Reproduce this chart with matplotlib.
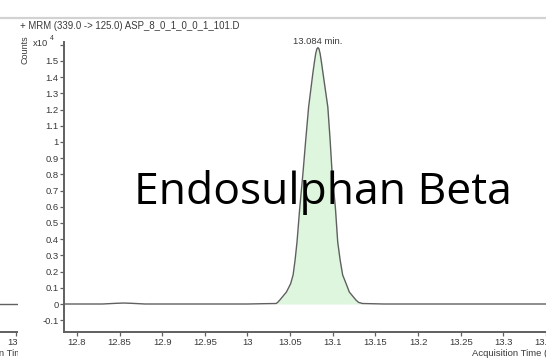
import matplotlib
matplotlib.use('Agg')
import matplotlib.pyplot as plt
import numpy as np
from matplotlib.lines import Line2D
from matplotlib.patches import Rectangle

# Cromatograma MRM (contagens em x10^4)
tempo = [12.785, 12.83, 12.845, 12.855, 12.865, 12.88, 13.0, 13.02,
         13.0337, 13.0354, 13.038, 13.0457, 13.0506, 13.0535, 13.0558,
         13.0581, 13.0613, 13.0651, 13.0683, 13.0717, 13.0767, 13.0784,
         13.08, 13.0814, 13.0826, 13.0838, 13.0852, 13.0868, 13.0885,
         13.0942, 13.0969, 13.0992, 13.1031, 13.1058, 13.1087, 13.1116,
         13.1157, 13.1194, 13.1271, 13.1302, 13.1349, 13.16, 13.35]
contagens = [0.0, 0.0, 0.004, 0.006, 0.004, 0.0, 0.0, 0.002,
             0.003, 0.01, 0.025, 0.074, 0.125, 0.179, 0.27,
             0.383, 0.593, 0.81, 1.012, 1.216, 1.426, 1.49,
             1.545, 1.575, 1.582, 1.575, 1.545, 1.49, 1.426,
             1.216, 1.012, 0.81, 0.593, 0.383, 0.27, 0.179,
             0.125, 0.074, 0.025, 0.01, 0.003, 0.0, 0.0]
pico_inicio, pico_fim = 13.0337, 13.1349
tempo_pico = 13.0826
rotulo_pico = '13.084 min.'

# painel vizinho (cortado a esquerda)
tempo_esq = [13.26, 13.41]
contagens_esq = [0.0, 0.0]

xticks = [12.8, 12.85, 12.9, 12.95, 13.0, 13.05, 13.1, 13.15, 13.2, 13.25, 13.3, 13.35]
xticklabels = ['12.8', '12.85', '12.9', '12.95', '13', '13.05', '13.1', '13.15',
               '13.2', '13.25', '13.3', '13.35']
yticks = [round(v, 1) for v in np.arange(-0.1, 1.65, 0.1)]
yticklabels = ['' if v == 1.6 else ('%g' % v) for v in yticks]

W, H = 546, 359
def fx(px):
    return px / W
def fy(py):
    return 1 - py / H

cinza = '#606060'
texto_cor = '#3a3a3a'
fonte = 'Liberation Sans'

fig = plt.figure(figsize=(W / 100, H / 100), dpi=100)

y0, y1 = 332, 42
ax = fig.add_axes([fx(64), fy(y0), fx(W - 64), (y0 - y1) / H], zorder=1)
ax.plot(tempo, contagens, color=cinza, lw=1.0)
t = np.array(tempo)
c = np.array(contagens)
ax.fill_between(t, c, 0, where=(t >= pico_inicio) & (t <= pico_fim),
                color='#ddf6dd', lw=0)
ax.set_xlim(12.7849, 13.3453)
ax.set_ylim(-0.1728, 1.617)
ax.set_xticks(xticks)
ax.set_xticklabels(xticklabels)
ax.set_yticks(yticks)
ax.set_yticklabels(yticklabels)
for s in ['top', 'right']:
    ax.spines[s].set_visible(False)
for s in ['left', 'bottom']:
    ax.spines[s].set_color(cinza)
    ax.spines[s].set_linewidth(1.4)
ax.tick_params(direction='out', length=3, width=0.9, color=cinza,
               labelsize=6.8, labelcolor=texto_cor, pad=1)
for lab in ax.get_xticklabels() + ax.get_yticklabels():
    lab.set_family(fonte)
ax.annotate(rotulo_pico, xy=(tempo_pico, max(contagens)), xytext=(0, 1),
            textcoords='offset points', ha='center', va='bottom',
            fontsize=6.8, color=texto_cor, family=fonte, annotation_clip=False)

# painel da esquerda
ax_e = fig.add_axes([fx(-100), fy(y0), fx(118), (y0 - y1) / H], zorder=0)
ax_e.plot(tempo_esq, contagens_esq, color=cinza, lw=1.0)
ax_e.set_xlim(13.4023 - 0.1372, 13.4023)
ax_e.set_ylim(-0.1728, 1.617)
ax_e.set_xticks([13.35, 13.4])
ax_e.set_xticklabels(['13.35', '13.4'])
ax_e.set_yticks([])
for s in ['top', 'right', 'left']:
    ax_e.spines[s].set_visible(False)
ax_e.spines['bottom'].set_color(cinza)
ax_e.spines['bottom'].set_linewidth(1.4)
ax_e.tick_params(direction='out', length=3, width=0.9, color=cinza,
                 labelsize=6.8, labelcolor=texto_cor, pad=1)
for lab in ax_e.get_xticklabels():
    lab.set_family(fonte)
fig.text(fx(-42), fy(353), 'Acquisition Time (min)', fontsize=6.8,
         color=texto_cor, family=fonte, ha='left', va='center', zorder=0.2)

# tapar o resto do painel vizinho
fig.add_artist(Rectangle((fx(18), 0), fx(45), fy(290), transform=fig.transFigure,
                         facecolor='white', edgecolor='none', zorder=0.5))

# linha cinza no topo
fig.add_artist(Line2D([0, 1], [fy(18), fy(18)], transform=fig.transFigure,
                      color='#d2d2d2', lw=1.6))

fig.text(fx(20), fy(26), '+ MRM (339.0 -> 125.0) ASP_8_0_1_0_0_1_101.D',
         fontsize=6.9, color=texto_cor, family=fonte, ha='left', va='center')
fig.text(fx(25), fy(50), 'Counts', rotation=90, fontsize=6.5, color=texto_cor,
         family=fonte, ha='center', va='center')
fig.text(fx(33), fy(43), 'x10', fontsize=6.8, color=texto_cor, family=fonte,
         ha='left', va='center')
fig.text(fx(50), fy(39), '4', fontsize=5, color=texto_cor, family=fonte,
         ha='left', va='center')
fig.text(fx(472), fy(353), 'Acquisition Time (min)', fontsize=6.8,
         color=texto_cor, family=fonte, ha='left', va='center')

fig.text(fx(134), fy(204), 'Endosulphan Beta', fontsize=32, color='black',
         family='Open Sans', ha='left', va='baseline', zorder=5)

fig.savefig('out.png', dpi=100)
plt.close(fig)
